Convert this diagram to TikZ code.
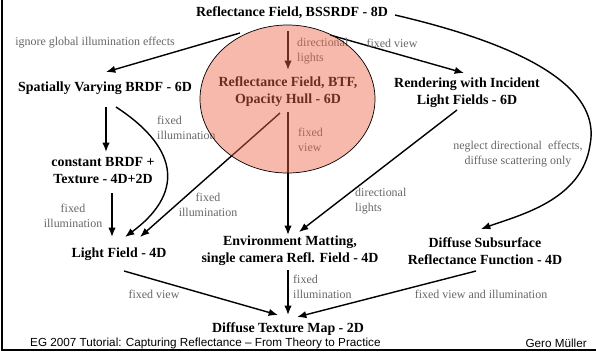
\documentclass[tikz,border=0pt]{standalone}
\usepackage{fontspec}
\setmainfont{Liberation Serif}
\newfontfamily\footfont{Liberation Sans}
\usetikzlibrary{arrows.meta,calc}
\definecolor{hullred}{RGB}{238,100,70}
\tikzset{
  fam/.style={font=\fontsize{11.9}{14.5}\selectfont\bfseries,align=center,inner sep=0pt},
  lbl/.style={font=\fontsize{10.2}{12.5}\selectfont,text=black!60,inner sep=0pt},
  arr/.style={-{Latex[length=2.8mm,width=2.2mm]},line width=1.2pt},
  foot/.style={font=\footfont\fontsize{10}{12}\selectfont,inner sep=0pt}
}

\begin{document}
\begin{tikzpicture}[x=0.03cm,y=-0.03cm]
\useasboundingbox (0,0) rectangle (596,352);
% reduction levels
\node[fam] (bssrdf) at (292,13) {Reflectance Field, BSSRDF - 8D};
\node[fam] (svbrdf) at (105,88) {Spatially Varying BRDF - 6D};
\node[fam] (btf) at (288,92) {Reflectance Field, BTF,\\Opacity Hull - 6D};
\node[fam] (rilf) at (467,93) {Rendering with Incident\\Light Fields - 6D};
\node[fam] (cbrdf) at (103,171) {constant BRDF +\\Texture - 4D+2D};
\node[fam] (lf) at (119,254) {Light Field - 4D};
\node[fam] (env) at (290,251) {Environment Matting,\\single camera Refl. Field - 4D};
\node[fam] (dsrf) at (485,251) {Diffuse Subsurface\\Reflectance Function - 4D};
\node[fam] (dtm) at (288,329) {Diffuse Texture Map - 2D};
% reductions
\draw[arr] ($(bssrdf)+(-52,20)$) -- ($(svbrdf)+(1,-16)$);
\draw[arr] ($(bssrdf)+(-4,18)$) -- ($(btf)+(0,-22)$);
\draw[arr] ($(bssrdf)+(38,22)$) -- ($(rilf)+(-3,-20)$);
\draw[arr] ($(bssrdf)+(103,2)$) .. controls (545,50) and (600,95) .. (590,145) .. controls (582,200) and (520,215) .. ($(dsrf)+(-4,-22)$);
\draw[arr] ($(svbrdf)+(1,19)$) -- ($(cbrdf)+(3,-19)$);
\draw[arr] ($(svbrdf)+(11,19)$) .. controls (182,150) and (182,195) .. ($(lf)+(6,-17)$);
\draw[arr] ($(cbrdf)+(9,22)$) -- ($(lf)+(-7,-17)$);
\draw[arr] ($(btf)+(-8,21)$) -- ($(lf)+(21,-17)$);
\draw[arr] ($(btf)+(0,20)$) -- ($(env)+(-2,-16)$);
\draw[arr] ($(rilf)+(-10,17)$) -- ($(env)+(9,-19)$);
\draw[arr] ($(lf)+(5,17)$) -- ($(dtm)+(-10,-14)$);
\draw[arr] ($(env)+(-2,19)$) -- ($(dtm)+(0,-14)$);
\draw[arr] ($(dsrf)+(-9,20)$) -- ($(dtm)+(9,-12)$);
% labels
\node[lbl] (l1) at (95,43) {ignore global illumination effects};
\node[lbl,align=left,anchor=west] (l2) at (297,51) {directional\\lights};
\node[lbl] (l3) at (392,43) {fixed view};
\node[lbl,align=center] (l4) at (518,154) {neglect directional\ \ effects,\\diffuse scattering only};
\node[lbl,align=left,anchor=west] (l5) at (157,128) {fixed\\illumination};
\node[lbl,align=center] (l6) at (73,216) {fixed\\illumination};
\node[lbl,align=center] (l7) at (208,205) {fixed\\illumination};
\node[lbl,align=left,anchor=west] (l8) at (298,140) {fixed\\view};
\node[lbl,align=left,anchor=west] (l9) at (355,201) {directional\\lights};
\node[lbl] (l10) at (154,294) {fixed view};
\node[lbl,align=left,anchor=west] (l11) at (293,287) {fixed\\illumination};
\node[lbl] (l12) at (481,294) {fixed view and illumination};
% highlighted level
\draw[line width=0.6pt,fill=hullred,fill opacity=0.45] (287.5,99) ellipse [x radius=87.5,y radius=74];
% slide frame
\node[foot,anchor=west] (ftl) at (30,343) {EG 2007 Tutorial: Capturing Reflectance – From Theory to Practice};
\node[foot,anchor=east] (ftr) at (587,343) {Gero Müller};
\draw[line width=2pt] (2,0) -- (2,350) -- (596,350);
\end{tikzpicture}
\end{document}
